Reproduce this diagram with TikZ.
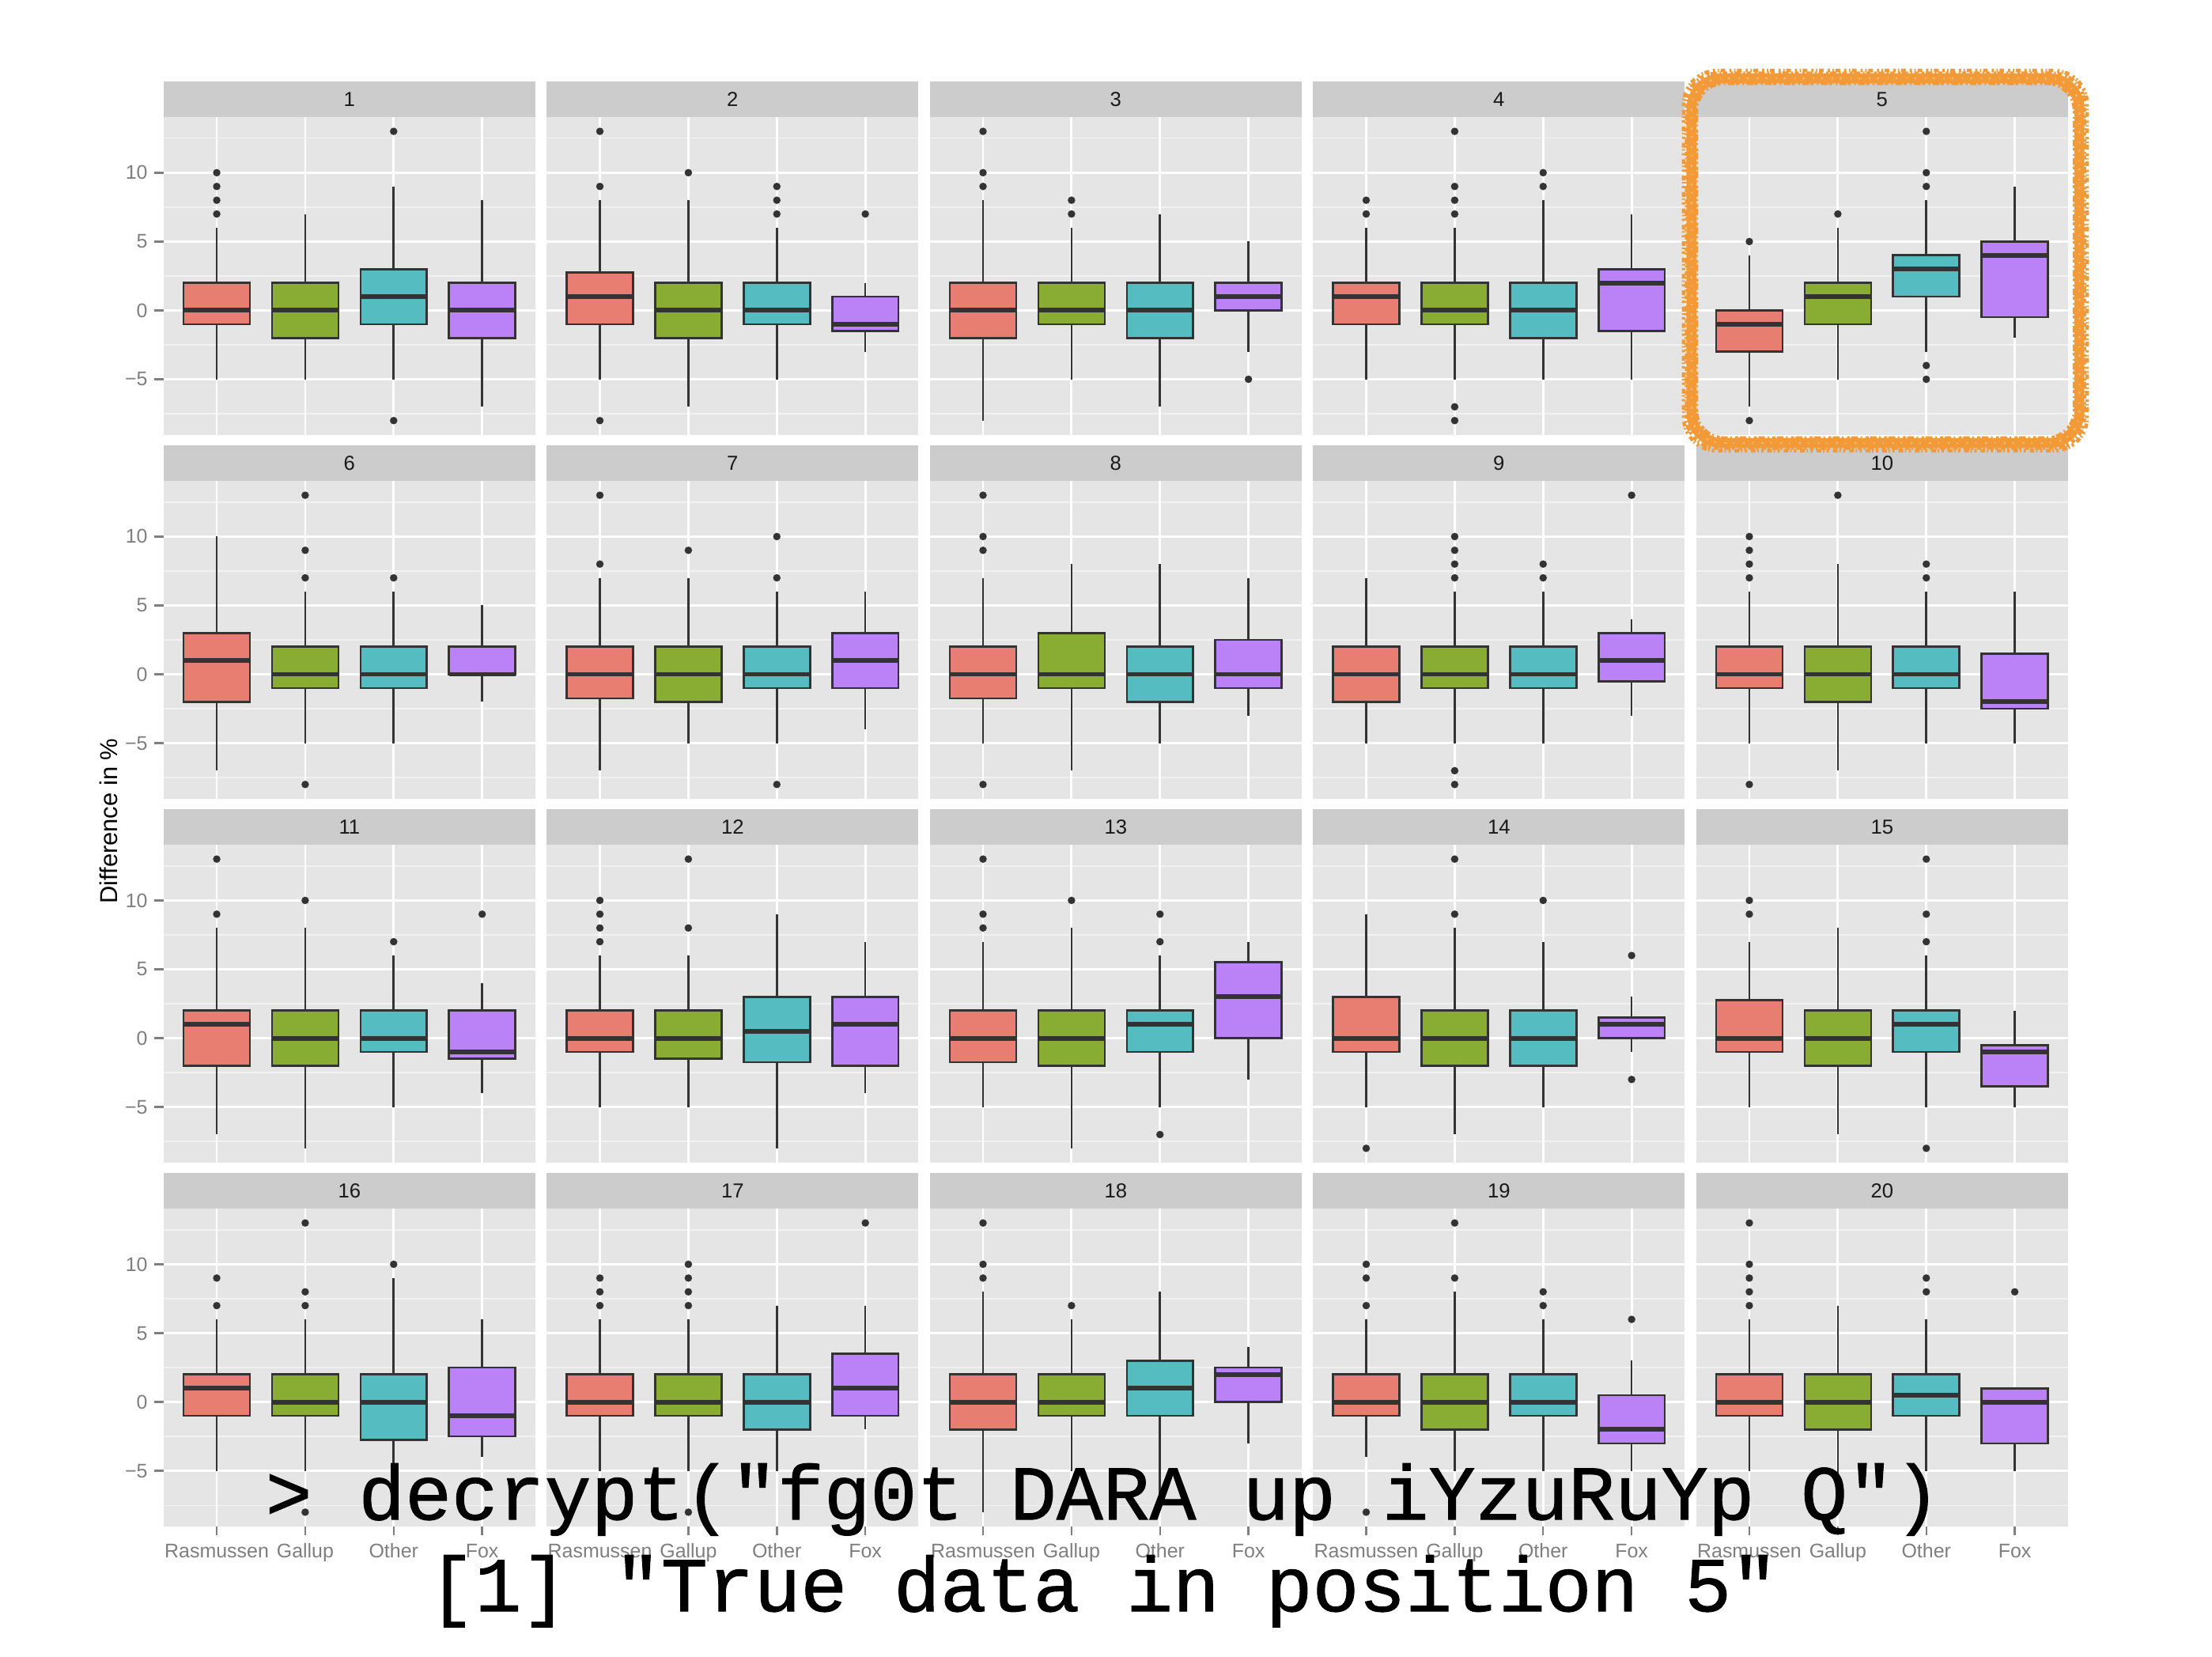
\documentclass[tikz,border=0pt]{standalone}
\usepackage{fontspec}
\setmainfont{Liberation Sans}
\newfontfamily\codefont[FakeBold=1.0]{Liberation Mono}
\definecolor{cR}{RGB}{232,125,114}
\definecolor{cG}{RGB}{137,172,51}
\definecolor{cB}{RGB}{85,188,194}
\definecolor{cP}{RGB}{187,130,248}
\definecolor{stripbg}{RGB}{204,204,204}
\definecolor{panelbg}{RGB}{229,229,229}
\definecolor{minorgrid}{RGB}{242,242,242}
\definecolor{boxline}{RGB}{51,51,51}
\definecolor{axisgray}{RGB}{127,127,127}
\definecolor{hl}{RGB}{242,154,56}
\definecolor{hlpale}{RGB}{246,190,120}

% #1 category, #2 fill, #3 lower whisker, #4 Q1, #5 median, #6 Q3, #7 upper whisker, #8 outliers
\newcommand\bx[8]{%
  \draw[whisk] (#1-0.4,#7) -- (#1-0.4,#6) (#1-0.4,#4) -- (#1-0.4,#3);
  \filldraw[boxst, fill=#2] (#1-0.775,#4) rectangle (#1-0.025,#6);
  \draw[medst] (#1-0.775,#5) -- (#1-0.025,#5);
  \if\relax\detokenize{#8}\relax\else
    \foreach \ov in {#8} {\fill[boxline] (#1-0.4,\ov) circle[radius=1.35pt];}%
  \fi}

% #1 column, #2 row, #3 label, #4 boxes
\newcommand\panel[4]{%
  \pgfmathsetmacro\pL{116+(#1-1)*271.6}%
  \pgfmathsetmacro\pT{57.9+(#2-1)*257.9}%
  \pgfmathsetmacro\pR{\pL+263.4}%
  \pgfmathsetmacro\pS{\pT+24.9}%
  \pgfmathsetmacro\pB{\pS+225.5}%
  \pgfmathsetmacro\pZ{\pS+137.2}%
  \fill[stripbg] (\pL,\pT) rectangle (\pR,\pS);
  \node[striptxt] (strip#3) at ({(\pL+\pR)/2},{(\pT+\pS)/2}) {#3};
  \fill[panelbg] (\pL,\pS) rectangle (\pR,\pB);
  \begin{scope}[shift={(\pL,\pZ)}]
  \begin{scope}[x=1.11869cm,y=0.174135cm]
    \foreach \g in {-7.5,-2.5,2.5,7.5,12.5} \draw[minorg] (0,\g) -- (4.2,\g);
    \foreach \g in {-5,0,5,10} \draw[majorg] (0,\g) -- (4.2,\g);
    \foreach \g in {0.6,1.6,2.6,3.6} \draw[majorg] (\g,-9.05) -- (\g,14.05);
    #4
  \end{scope}
  \end{scope}}

\begin{document}
\begin{tikzpicture}[x=0.017838cm,y=-0.017838cm,
  whisk/.style={draw=boxline, line width=0.75pt},
  boxst/.style={draw=boxline, line width=0.75pt},
  medst/.style={draw=boxline, line width=1.7pt},
  minorg/.style={draw=minorgrid, line width=0.4pt},
  majorg/.style={draw=white, line width=0.8pt},
  striptxt/.style={font=\fontsize{7.3}{8}\selectfont, text=black!90, inner sep=0pt},
  ticktxt/.style={font=\fontsize{7.1}{8}\selectfont, text=axisgray, inner sep=0pt},
  tickst/.style={draw=axisgray, line width=0.7pt},
  hlbox/.style={draw=hl, rounded corners=11pt},
  rough/.style={draw=hl, line width=1.3pt},
  codetxt/.style={font=\codefont\fontsize{27.9}{30}\selectfont, text=black, inner sep=0pt, anchor=base}]

\fill[white] (0,0) rectangle (1568,1174);
\useasboundingbox (0,0) rectangle (1568,1174);

% ---------------- row 1
\panel{1}{1}{1}{
\bx{1}{cR}{-5}{-1}{0}{2}{6}{7,8,9,10}
\bx{2}{cG}{-5}{-2}{0}{2}{7}{}
\bx{3}{cB}{-5}{-1}{1}{3}{9}{13,-8}
\bx{4}{cP}{-7}{-2}{0}{2}{8}{}}
\panel{2}{1}{2}{
\bx{1}{cR}{-5}{-1}{1}{2.75}{8}{13,9,-8}
\bx{2}{cG}{-7}{-2}{0}{2}{8}{10}
\bx{3}{cB}{-5}{-1}{0}{2}{6}{9,8,7}
\bx{4}{cP}{-3}{-1.5}{-1}{1}{2}{7}}
\panel{3}{1}{3}{
\bx{1}{cR}{-8}{-2}{0}{2}{8}{13,10,9}
\bx{2}{cG}{-5}{-1}{0}{2}{6}{8,7}
\bx{3}{cB}{-7}{-2}{0}{2}{7}{}
\bx{4}{cP}{-3}{0}{1}{2}{5}{-5}}
\panel{4}{1}{4}{
\bx{1}{cR}{-5}{-1}{1}{2}{6}{8,7}
\bx{2}{cG}{-5}{-1}{0}{2}{6}{13,9,8,7,-7,-8}
\bx{3}{cB}{-5}{-2}{0}{2}{8}{10,9}
\bx{4}{cP}{-5}{-1.5}{2}{3}{7}{}}
\panel{5}{1}{5}{
\bx{1}{cR}{-7}{-3}{-1}{0}{4}{5,-8}
\bx{2}{cG}{-5}{-1}{1}{2}{6}{7}
\bx{3}{cB}{-3}{1}{3}{4}{8}{13,10,9,-4,-5}
\bx{4}{cP}{-2}{-0.5}{4}{5}{9}{}}
% ---------------- row 2
\panel{1}{2}{6}{
\bx{1}{cR}{-7}{-2}{1}{3}{10}{}
\bx{2}{cG}{-5}{-1}{0}{2}{6}{13,9,7,-8}
\bx{3}{cB}{-5}{-1}{0}{2}{6}{7}
\bx{4}{cP}{-2}{0}{0}{2}{5}{}}
\panel{2}{2}{7}{
\bx{1}{cR}{-7}{-1.75}{0}{2}{7}{13,8}
\bx{2}{cG}{-5}{-2}{0}{2}{7}{9}
\bx{3}{cB}{-5}{-1}{0}{2}{6}{10,7,-8}
\bx{4}{cP}{-4}{-1}{1}{3}{6}{}}
\panel{3}{2}{8}{
\bx{1}{cR}{-5}{-1.75}{0}{2}{7}{13,10,9,-8}
\bx{2}{cG}{-7}{-1}{0}{3}{8}{}
\bx{3}{cB}{-5}{-2}{0}{2}{8}{}
\bx{4}{cP}{-3}{-1}{0}{2.5}{7}{}}
\panel{4}{2}{9}{
\bx{1}{cR}{-5}{-2}{0}{2}{7}{}
\bx{2}{cG}{-5}{-1}{0}{2}{6}{10,9,8,7,-7,-8}
\bx{3}{cB}{-5}{-1}{0}{2}{6}{8,7}
\bx{4}{cP}{-3}{-0.5}{1}{3}{4}{13}}
\panel{5}{2}{10}{
\bx{1}{cR}{-5}{-1}{0}{2}{6}{10,9,8,7,-8}
\bx{2}{cG}{-7}{-2}{0}{2}{8}{13}
\bx{3}{cB}{-5}{-1}{0}{2}{6}{8,7}
\bx{4}{cP}{-5}{-2.5}{-2}{1.5}{6}{}}
% ---------------- row 3
\panel{1}{3}{11}{
\bx{1}{cR}{-7}{-2}{1}{2}{8}{13,9}
\bx{2}{cG}{-8}{-2}{0}{2}{8}{10}
\bx{3}{cB}{-5}{-1}{0}{2}{6}{7}
\bx{4}{cP}{-4}{-1.5}{-1}{2}{4}{9}}
\panel{2}{3}{12}{
\bx{1}{cR}{-5}{-1}{0}{2}{6}{10,9,8,7}
\bx{2}{cG}{-5}{-1.5}{0}{2}{6}{13,8}
\bx{3}{cB}{-8}{-1.75}{0.5}{3}{9}{}
\bx{4}{cP}{-4}{-2}{1}{3}{7}{}}
\panel{3}{3}{13}{
\bx{1}{cR}{-5}{-1.75}{0}{2}{7}{13,9,8}
\bx{2}{cG}{-8}{-2}{0}{2}{8}{10}
\bx{3}{cB}{-5}{-1}{1}{2}{6}{9,7,-7}
\bx{4}{cP}{-3}{0}{3}{5.5}{7}{}}
\panel{4}{3}{14}{
\bx{1}{cR}{-5}{-1}{0}{3}{9}{-8}
\bx{2}{cG}{-7}{-2}{0}{2}{8}{13,9}
\bx{3}{cB}{-5}{-2}{0}{2}{7}{10}
\bx{4}{cP}{-1}{0}{1}{1.5}{3}{6,-3}}
\panel{5}{3}{15}{
\bx{1}{cR}{-5}{-1}{0}{2.75}{7}{10,9}
\bx{2}{cG}{-7}{-2}{0}{2}{8}{}
\bx{3}{cB}{-5}{-1}{1}{2}{6}{13,9,7,-8}
\bx{4}{cP}{-5}{-3.5}{-1}{-0.5}{2}{}}
% ---------------- row 4
\panel{1}{4}{16}{
\bx{1}{cR}{-5}{-1}{1}{2}{6}{9,7}
\bx{2}{cG}{-5}{-1}{0}{2}{6}{13,8,7,-8}
\bx{3}{cB}{-5}{-2.75}{0}{2}{9}{10}
\bx{4}{cP}{-4}{-2.5}{-1}{2.5}{6}{}}
\panel{2}{4}{17}{
\bx{1}{cR}{-5}{-1}{0}{2}{6}{9,8,7}
\bx{2}{cG}{-5}{-1}{0}{2}{6}{10,9,8,7,-8}
\bx{3}{cB}{-5}{-2}{0}{2}{7}{}
\bx{4}{cP}{-2}{-1}{1}{3.5}{7}{13}}
\panel{3}{4}{18}{
\bx{1}{cR}{-8}{-2}{0}{2}{8}{13,10,9}
\bx{2}{cG}{-5}{-1}{0}{2}{6}{7}
\bx{3}{cB}{-7}{-1}{1}{3}{8}{}
\bx{4}{cP}{-3}{0}{2}{2.5}{4}{}}
\panel{4}{4}{19}{
\bx{1}{cR}{-4}{-1}{0}{2}{6}{10,9,7,-8}
\bx{2}{cG}{-5}{-2}{0}{2}{8}{13,9}
\bx{3}{cB}{-5}{-1}{0}{2}{6}{8,7}
\bx{4}{cP}{-5}{-3}{-2}{0.5}{3}{6}}
\panel{5}{4}{20}{
\bx{1}{cR}{-5}{-1}{0}{2}{6}{13,10,9,8,7}
\bx{2}{cG}{-7}{-2}{0}{2}{7}{}
\bx{3}{cB}{-5}{-1}{0.5}{2}{6}{9,8}
\bx{4}{cP}{-5}{-3}{0}{1}{1}{8}}

% ---------------- y axis ticks and labels
\foreach \r in {1,...,4} {
  \pgfmathsetmacro\rz{57.9+(\r-1)*257.9+24.9+137.2}
  \foreach \v/\t [count=\i] in {10/10,5/5,0/0,-5/−5} {
    \draw[tickst] (109.5,{\rz-\v*9.762}) -- (116,{\rz-\v*9.762});
    \node[ticktxt, anchor=east] (yl\r\i) at (105,{\rz-\v*9.762}) {\t};
  }
}
% ---------------- x axis ticks and labels
\foreach \c in {1,...,5} {
  \pgfmathsetmacro\cl{116+(\c-1)*271.6}
  \foreach \k/\t in {1/Rasmussen,2/Gallup,3/Other,4/Fox} {
    \draw[tickst] ({\cl+(\k-0.4)*62.714},1082) -- ({\cl+(\k-0.4)*62.714},1088);
    \node[ticktxt, anchor=base] (xl\c\k) at ({\cl+(\k-0.4)*62.714},1104) {\t};
  }
}
\node[font=\fontsize{8.8}{10}\selectfont, rotate=90, inner sep=0pt] (ytitle) at (77,582) {Difference in \%};

% ---------------- hand-drawn highlight of panel 5
\draw[hlbox, line width=3.6pt] (1199,55.5) rectangle (1474,314);
\draw[hlbox, rough, dash pattern=on 1.4pt off 0.7pt on 0.6pt off 1pt on 2.2pt off 0.5pt on 0.9pt off 1.3pt]
  (1195.5,52) rectangle (1477.5,317.5);
\draw[hlbox, rough, rounded corners=12pt, dash pattern=on 0.8pt off 1.4pt on 1.7pt off 0.6pt on 0.5pt off 0.9pt]
  (1193.5,50) rectangle (1479.5,319.5);
\draw[hlbox, rough, rounded corners=10pt, dash pattern=on 1.1pt off 0.5pt on 2.4pt off 0.9pt on 0.6pt off 1.2pt]
  (1202.5,59) rectangle (1470.5,310.5);
\draw[hlbox, draw=hlpale, line width=0.6pt, dash pattern=on 0.7pt off 2.5pt on 0.4pt off 3.1pt]
  (1199,55.5) rectangle (1474,314);

% ---------------- console text
\node[codetxt] (cmd) at (782,1077) {> decrypt("fg0t DARA up iYzuRuYp Q")};
\node[codetxt] (res) at (782,1142) {[1] "True data in position 5"};
\end{tikzpicture}
\end{document}
